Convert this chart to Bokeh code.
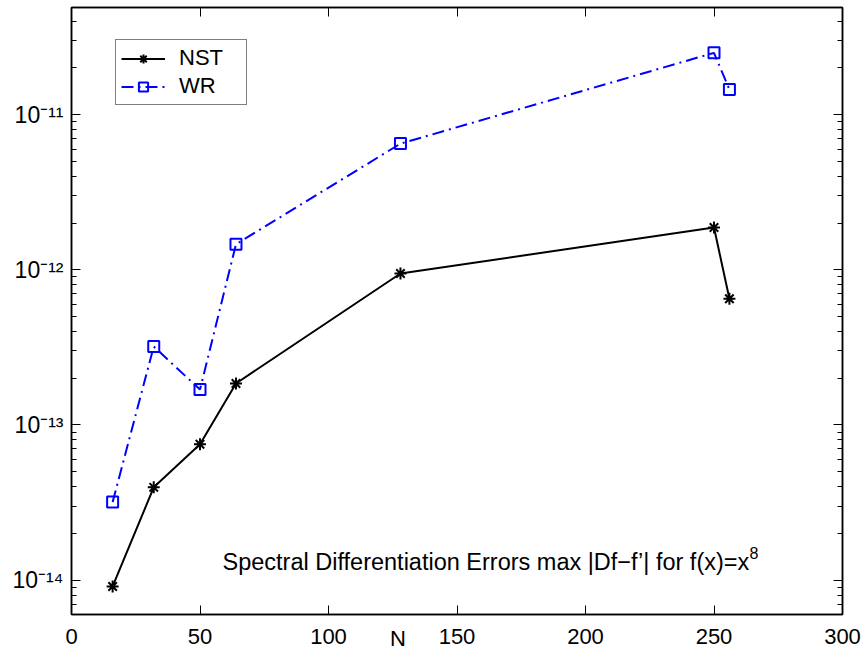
from bokeh.plotting import figure
from bokeh.models import (Label, Legend, LegendItem, FixedTicker, LinearAxis, LogAxis,
                          Range1d)
from bokeh.embed import file_html
from bokeh.resources import INLINE

# ---- data ----
N = [16, 32, 50, 64, 128, 250, 256]
nst = [9.1e-15, 3.96e-14, 7.5e-14, 1.85e-13, 9.46e-13, 1.87e-12, 6.5e-13]
wr = [3.18e-14, 3.2e-13, 1.69e-13, 1.46e-12, 6.5e-12, 2.5e-11, 1.45e-11]
x_ticks = [0, 50, 100, 150, 200, 250, 300]
y_decades = [-14, -13, -12, -11]
y_tick_labels = ["10\u207b\u00b9\u2074", "10\u207b\u00b9\u00b3",
                 "10\u207b\u00b9\u00b2", "10\u207b\u00b9\u00b9"]
annotation = "Spectral Differentiation Errors max |Df\u2212f\u2019| for f(x)=x"
annotation_sup = "8"
x_label = "N"
x_label_pos = 127

FONT = "Liberation Sans"

p = figure(width=862, height=654, x_range=Range1d(0, 300),
           y_range=Range1d(6.0e-15, 4.9e-11), y_axis_type="log",
           output_backend="svg", toolbar_location=None,
           min_border_left=71, min_border_right=20, min_border_top=7,
           min_border_bottom=40)
p.background_fill_color = "white"
p.border_fill_color = "white"
p.outline_line_color = "black"
p.outline_line_width = 1.5
p.xgrid.visible = False
p.ygrid.visible = False

major_y = [10.0 ** d for d in y_decades]
minor_y = [m * 10.0 ** d for d in range(-15, -10) for m in range(2, 10)]
yt = FixedTicker(ticks=major_y, minor_ticks=minor_y)
xt = FixedTicker(ticks=x_ticks)
blank_x = {t: "" for t in x_ticks}
blank_y = {t: "" for t in major_y}

# bottom axis nearest the frame: tick marks only
xa = p.xaxis[0]
xa.ticker = xt
xa.major_tick_in = 9
xa.major_tick_out = 0
xa.minor_tick_line_color = None
xa.axis_line_width = 1.5
xa.major_label_overrides = blank_x
xa.major_label_text_font_size = "1px"
xa.major_label_standoff = 0

# second bottom axis: the tick labels
xlab = LinearAxis(ticker=xt,
                  major_tick_line_color=None, minor_tick_line_color=None,
                  axis_line_color=None, major_label_text_font=FONT,
                  major_label_text_font_size="22px",
                  major_label_text_color="black", major_label_standoff=8)
p.add_layout(xlab, "below")

# third bottom axis: the "N" label, pulled up next to the tick labels
nlab = LinearAxis(ticker=FixedTicker(ticks=[x_label_pos]),
                  major_label_overrides={x_label_pos: x_label},
                  major_tick_line_color=None, minor_tick_line_color=None,
                  axis_line_color=None, major_label_text_font=FONT,
                  major_label_text_font_size="22px",
                  major_label_text_color="black", major_label_standoff=-27)
p.add_layout(nlab, "below")

# left axis
ya = p.yaxis[0]
ya.ticker = yt
ya.major_tick_in = 9
ya.major_tick_out = 0
ya.minor_tick_in = 5
ya.minor_tick_out = 0
ya.axis_line_width = 1.5
ya.major_label_overrides = dict(zip(major_y, y_tick_labels))
ya.major_label_text_font = FONT
ya.major_label_text_font_size = "23px"
ya.major_label_text_color = "black"
ya.major_label_standoff = 8

# mirrored top / right axes
top = LinearAxis(ticker=xt, major_tick_in=9, major_tick_out=0,
                 minor_tick_line_color=None, major_label_overrides=blank_x,
                 major_label_text_font_size="1px",
                 major_label_standoff=0, axis_line_width=1.5)
p.add_layout(top, "above")
right = LogAxis(ticker=yt, major_tick_in=9, major_tick_out=0, minor_tick_in=5,
                minor_tick_out=0, major_label_overrides=blank_y,
                major_label_text_font_size="1px",
                major_label_standoff=0, axis_line_width=1.5)
p.add_layout(right, "right")

# series
r1 = p.line(N, nst, line_color="black", line_width=2)
m1 = p.scatter(N, nst, marker="asterisk", size=12, line_color="black", line_width=2)
r2 = p.line(N, wr, line_color="blue", line_width=2, line_dash="12 5 2 5")
m2 = p.scatter(N, wr, marker="square", size=11, line_color="blue",
               fill_color=None, line_width=2)

legend = Legend(items=[LegendItem(label="NST", renderers=[r1, m1]),
                       LegendItem(label="WR", renderers=[r2, m2])],
                location=(44, 509), orientation="vertical",
                label_text_font=FONT, label_text_font_size="22px",
                label_text_color="black",
                glyph_width=44, glyph_height=23, label_height=23,
                label_width=62, label_standoff=14, spacing=2, padding=5,
                margin=0, border_line_color="black", border_line_width=1,
                background_fill_color="white", background_fill_alpha=1.0)
p.add_layout(legend)

# annotation
p.add_layout(Label(x=151, y=53, x_units="screen", y_units="screen",
                   text=annotation, text_font=FONT, text_font_size="23.5px",
                   text_baseline="alphabetic", text_color="black"))
p.add_layout(Label(x=678, y=62, x_units="screen", y_units="screen",
                   text=annotation_sup, text_font=FONT, text_font_size="16px",
                   text_baseline="alphabetic", text_color="black"))

open("out.html", "w").write(file_html(p, INLINE))
